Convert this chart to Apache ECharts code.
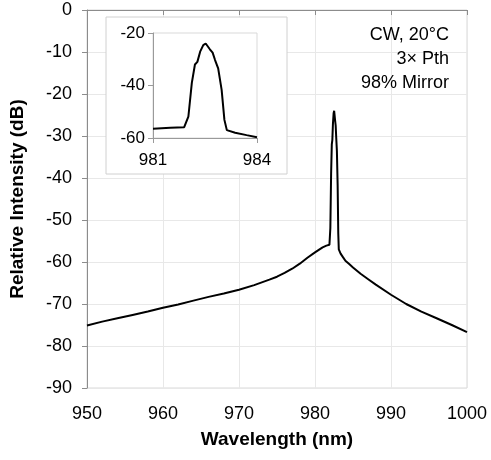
<!DOCTYPE html>
<html>
<head>
<meta charset="utf-8">
<script src="https://cdn.jsdelivr.net/npm/echarts@6/dist/echarts.min.js"></script>
<style>
  html, body { margin: 0; padding: 0; background: #fff; }
  #chart { width: 491px; height: 460px; }
</style>
</head>
<body>
<div id="chart"></div>
<script>
  // spectrum (nm, dB)
  const wavelength = [950, 952, 954, 956, 958, 960, 962, 964, 966, 968, 970, 972, 974, 975, 976, 977, 978, 979, 980, 980.5,
    981, 981.5, 981.9, 982.02, 982.12, 982.21, 982.28, 982.36, 982.45, 982.52, 982.64, 982.72, 982.79, 982.88, 982.98,
    983.06, 983.13, 983.37, 983.7, 984, 984.5, 985, 986, 987, 988, 990, 992, 994, 996, 998, 1000]
  const intensity = [-75.1, -74.2, -73.4, -72.6, -71.8, -70.9, -70.1, -69.2, -68.3, -67.5, -66.6, -65.5, -64.2, -63.5, -62.6, -61.6, -60.4, -59.0, -57.7, -57.1,
    -56.5, -56.1, -55.9, -51.9, -39.0, -32.0, -31.0, -27.1, -24.6, -24.0, -26.2, -27.5, -30.3, -33.5, -41.7,
    -53.1, -57.0, -58.0, -58.9, -59.7, -60.5, -61.3, -62.8, -64.1, -65.4, -67.8, -70.0, -71.8, -73.4, -75.0, -76.7]

  const xTicks = [950, 1000, 10]
  const yTicks = [-90, 0, 10]
  const insetX = [981, 984, 3]
  const insetY = [-60, -20, 20]
  const notes = ['CW, 20°C', '3× Pth', '98% Mirror']

  const mainData = wavelength.map((w, i) => [w, intensity[i]])
  const insetData = mainData.filter(p => p[0] >= insetX[0] && p[0] <= insetX[1])

  const font = 'Liberation Sans, Arial, sans-serif'
  const plain = v => String(v)
  const chart = echarts.init(document.getElementById('chart'))

  chart.setOption({
    animation: false,
    grid: [
      { left: 86, top: 10, width: 381, height: 378, show: true, borderColor: '#d9d9d9', borderWidth: 1 },
      { left: 153, top: 33, width: 104, height: 105, show: true, borderColor: '#d9d9d9', borderWidth: 1, z: 3 }
    ],
    xAxis: [{
      gridIndex: 0, type: 'value', min: xTicks[0], max: xTicks[1], interval: xTicks[2],
      name: 'Wavelength (nm)', nameLocation: 'middle', nameGap: 42,
      nameTextStyle: { fontFamily: font, fontSize: 19, fontWeight: 'bold', color: '#000' },
      axisLine: { lineStyle: { color: '#8c8c8c' } },
      axisTick: { show: true, length: 5, lineStyle: { color: '#8c8c8c' } },
      axisLabel: { fontFamily: font, fontSize: 18, color: '#000', margin: 17, formatter: plain },
      splitLine: { show: true, lineStyle: { color: '#e8e8e8' } }
    }, {
      gridIndex: 1, type: 'value', min: insetX[0], max: insetX[1], interval: insetX[2], z: 3,
      axisLine: { lineStyle: { color: '#9a9a9a' } },
      axisTick: { show: true, length: 5, lineStyle: { color: '#9a9a9a' } },
      axisLabel: { fontFamily: font, fontSize: 17, color: '#000', margin: 14, formatter: plain },
      splitLine: { show: false }
    }],
    yAxis: [{
      gridIndex: 0, type: 'value', min: yTicks[0], max: yTicks[1], interval: yTicks[2],
      name: 'Relative Intensity (dB)', nameLocation: 'middle', nameGap: 60,
      nameTextStyle: { fontFamily: font, fontSize: 19, fontWeight: 'bold', color: '#000' },
      axisLine: { show: true, lineStyle: { color: '#8c8c8c' } },
      axisTick: { show: true, length: 5, lineStyle: { color: '#8c8c8c' } },
      axisLabel: { fontFamily: font, fontSize: 18, color: '#000', margin: 15 },
      splitLine: { show: true, lineStyle: { color: '#e8e8e8' } }
    }, {
      gridIndex: 1, type: 'value', min: insetY[0], max: insetY[1], interval: insetY[2], z: 3,
      axisLine: { show: true, lineStyle: { color: '#9a9a9a' } },
      axisTick: { show: true, length: 5, lineStyle: { color: '#9a9a9a' } },
      axisLabel: { fontFamily: font, fontSize: 17, color: '#000', margin: 8 },
      splitLine: { show: false }
    }],
    graphic: [{
      type: 'rect', z: 1,
      shape: { x: 106, y: 17, width: 181, height: 157 },
      style: { fill: '#fff', stroke: '#d0d0d0', lineWidth: 1 }
    }, {
      type: 'text', z: 5, x: 449, y: 23,
      style: {
        text: notes.join('\n'), fill: '#000', font: '18px ' + font,
        align: 'right', lineHeight: 24
      }
    }],
    series: [{
      type: 'line', xAxisIndex: 0, yAxisIndex: 0, data: mainData,
      showSymbol: false, lineStyle: { color: '#000', width: 2 }, z: 2
    }, {
      type: 'line', xAxisIndex: 1, yAxisIndex: 1, data: insetData,
      showSymbol: false, lineStyle: { color: '#000', width: 2 }, z: 4
    }]
  })
</script>
</body>
</html>
